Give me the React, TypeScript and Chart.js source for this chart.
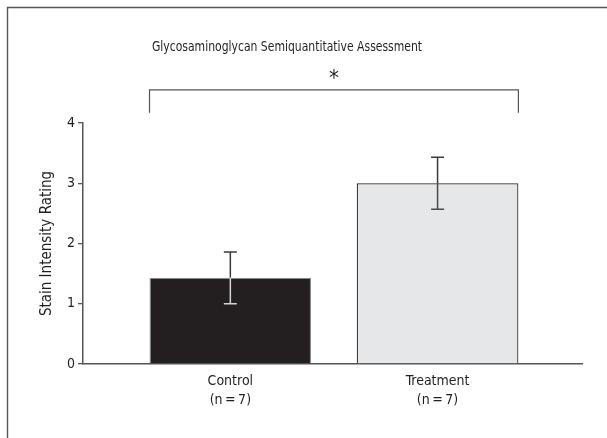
import React, { useEffect, useRef } from "react";
import { Chart, registerables } from "chart.js";

Chart.register(...registerables);

const categories = ["Control", "Treatment"];
const groupSizes = ["(n\u2009=\u20097)", "(n\u2009=\u20097)"];
const means = [1.43, 3.0];
const errors = [0.43, 0.43];
const yTicks = [0, 1, 2, 3, 4];
const chartTitle = "Glycosaminoglycan Semiquantitative Assessment";
const yAxisTitle = "Stain Intensity Rating";
const significanceMark = "*";

const FONT = "'Liberation Sans Narrow', 'DejaVu Sans Condensed', 'Roboto', sans-serif";
const AXIS = "#555555";
const INK = "#231f20";

const overlay = {
  id: "overlay",
  afterDatasetsDraw(chart: any) {
    const ctx = chart.ctx;
    const ys = chart.scales.y;
    const meta = chart.getDatasetMeta(0);
    ctx.save();
    // error bars
    meta.data.forEach((bar: any, i: number) => {
      const x = bar.x;
      const top = ys.getPixelForValue(means[i] + errors[i]);
      const mid = ys.getPixelForValue(means[i]);
      const bot = ys.getPixelForValue(means[i] - errors[i]);
      const inside = i === 0 ? "#d4d4d4" : "#4a4a4a";
      ctx.lineWidth = 1.5;
      ctx.strokeStyle = "#3a3a3a";
      ctx.beginPath();
      ctx.moveTo(x, top);
      ctx.lineTo(x, mid);
      ctx.moveTo(x - 6.5, top);
      ctx.lineTo(x + 6.5, top);
      ctx.stroke();
      ctx.strokeStyle = inside;
      ctx.beginPath();
      ctx.moveTo(x, mid);
      ctx.lineTo(x, bot);
      ctx.moveTo(x - 6.5, bot);
      ctx.lineTo(x + 6.5, bot);
      ctx.stroke();
    });
    // significance bracket
    const b0: any = meta.data[0];
    const b1: any = meta.data[1];
    const left = b0.x - b0.width / 2;
    const right = b1.x + b1.width / 2;
    const yTop = ys.getPixelForValue(4.55);
    const yBot = ys.getPixelForValue(4.17);
    ctx.strokeStyle = AXIS;
    ctx.lineWidth = 1.2;
    ctx.beginPath();
    ctx.moveTo(left, yBot);
    ctx.lineTo(left, yTop);
    ctx.lineTo(right, yTop);
    ctx.lineTo(right, yBot);
    ctx.stroke();
    ctx.fillStyle = INK;
    ctx.font = `22px ${FONT}`;
    ctx.textAlign = "center";
    ctx.textBaseline = "middle";
    ctx.fillText(significanceMark, (left + right) / 2, ys.getPixelForValue(4.72));
    // title (condensed horizontally to match the narrow typeface)
    ctx.save();
    ctx.translate(287, 47);
    ctx.scale(0.86, 1);
    ctx.font = `14px ${FONT}`;
    ctx.fillText(chartTitle, 0, 0);
    ctx.restore();
    // frame
    ctx.strokeStyle = AXIS;
    ctx.lineWidth = 1.4;
    ctx.beginPath();
    ctx.moveTo(7.5, chart.height);
    ctx.lineTo(7.5, 7.5);
    ctx.lineTo(chart.width, 7.5);
    ctx.stroke();
    ctx.restore();
  },
};

export default function App() {
  const ref = useRef<HTMLCanvasElement>(null);
  useEffect(() => {
    if (!ref.current) return;
    const chart = new Chart(ref.current, {
      type: "bar",
      data: {
        datasets: [
          {
            data: means.map((v, i) => ({ x: i, y: v })),
            backgroundColor: [INK, "#e6e7e8"],
            borderColor: ["#8a8a8a", "#2a2627"],
            borderWidth: 1.2,
            barPercentage: 0.78,
            categoryPercentage: 1,
          },
        ],
      },
      options: {
        responsive: false,
        animation: false,
        devicePixelRatio: 1,
        layout: { padding: { top: 123, right: 25, left: 0, bottom: 0 } },
        plugins: { legend: { display: false }, tooltip: { enabled: false }, title: { display: false } },
        scales: {
          x: {
            type: "linear",
            min: -0.711,
            max: 1.697,
            offset: false,
            afterBuildTicks: (s: any) => {
              s.ticks = categories.map((_, i) => ({ value: i }));
            },
            afterFit: (s: any) => {
              s.height = 74;
            },
            ticks: {
              callback: (v: any) => [categories[v], groupSizes[v]],
              color: INK,
              font: { family: FONT, size: 14, lineHeight: 1.35 },
              padding: 8,
              maxRotation: 0,
              autoSkip: false,
            },
            grid: { display: true, drawOnChartArea: false, drawTicks: false, offset: false },
            border: { color: AXIS, width: 1.5 },
          },
          y: {
            min: 0,
            max: 4,
            afterBuildTicks: (s: any) => {
              s.ticks = yTicks.map((v) => ({ value: v }));
            },
            afterFit: (s: any) => {
              s.width = 83;
            },
            ticks: {
              color: INK,
              font: { family: FONT, size: 14 },
              padding: 3,
            },
            grid: { drawOnChartArea: false, drawTicks: true, tickLength: 5, color: AXIS, lineWidth: 1.3 },
            border: { color: AXIS, width: 1.5 },
            title: {
              display: true,
              text: yAxisTitle,
              color: INK,
              font: { family: FONT, size: 15 },
              padding: { top: 38, bottom: 0 },
            },
          },
        },
      },
      plugins: [overlay],
    });
    return () => chart.destroy();
  }, []);
  return (
    <div style={{ position: "absolute", left: 0, top: 0, width: 607, height: 438, background: "#fff" }}>
      <canvas ref={ref} width={607} height={438} style={{ display: "block" }} />
    </div>
  );
}
